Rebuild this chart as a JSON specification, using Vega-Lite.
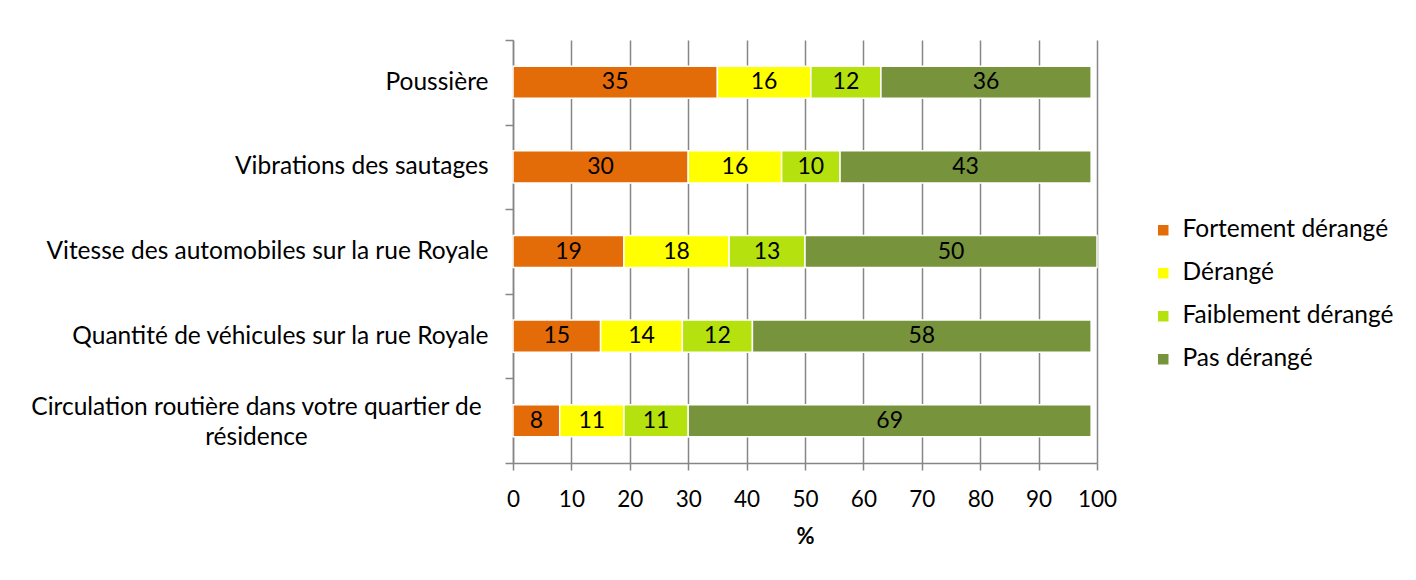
{
  "$schema": "https://vega.github.io/schema/vega-lite/v6.json",
  "width": 584,
  "height": 423,
  "autosize": {"type": "none"},
  "padding": {"left": 513, "top": 40, "right": 319, "bottom": 117},
  "background": "white",
  "config": {
    "font": "Lato",
    "view": {"stroke": null},
    "axis": {"labelFont": "Lato", "titleFont": "Lato", "labelColor": "black", "titleColor": "black"}
  },
  "data": {
    "values": [
      {"cat": "Poussière", "serie": "Fortement dérangé", "ord": 1, "v": 35},
      {"cat": "Poussière", "serie": "Dérangé", "ord": 2, "v": 16},
      {"cat": "Poussière", "serie": "Faiblement dérangé", "ord": 3, "v": 12},
      {"cat": "Poussière", "serie": "Pas dérangé", "ord": 4, "v": 36},
      {"cat": "Vibrations des sautages", "serie": "Fortement dérangé", "ord": 1, "v": 30},
      {"cat": "Vibrations des sautages", "serie": "Dérangé", "ord": 2, "v": 16},
      {"cat": "Vibrations des sautages", "serie": "Faiblement dérangé", "ord": 3, "v": 10},
      {"cat": "Vibrations des sautages", "serie": "Pas dérangé", "ord": 4, "v": 43},
      {"cat": "Vitesse des automobiles sur la rue Royale", "serie": "Fortement dérangé", "ord": 1, "v": 19},
      {"cat": "Vitesse des automobiles sur la rue Royale", "serie": "Dérangé", "ord": 2, "v": 18},
      {"cat": "Vitesse des automobiles sur la rue Royale", "serie": "Faiblement dérangé", "ord": 3, "v": 13},
      {"cat": "Vitesse des automobiles sur la rue Royale", "serie": "Pas dérangé", "ord": 4, "v": 50},
      {"cat": "Quantité de véhicules sur la rue Royale", "serie": "Fortement dérangé", "ord": 1, "v": 15},
      {"cat": "Quantité de véhicules sur la rue Royale", "serie": "Dérangé", "ord": 2, "v": 14},
      {"cat": "Quantité de véhicules sur la rue Royale", "serie": "Faiblement dérangé", "ord": 3, "v": 12},
      {"cat": "Quantité de véhicules sur la rue Royale", "serie": "Pas dérangé", "ord": 4, "v": 58},
      {"cat": "Circulation routière dans votre quartier de résidence", "serie": "Fortement dérangé", "ord": 1, "v": 8},
      {"cat": "Circulation routière dans votre quartier de résidence", "serie": "Dérangé", "ord": 2, "v": 11},
      {"cat": "Circulation routière dans votre quartier de résidence", "serie": "Faiblement dérangé", "ord": 3, "v": 11},
      {"cat": "Circulation routière dans votre quartier de résidence", "serie": "Pas dérangé", "ord": 4, "v": 69}
    ]
  },
  "encoding": {
    "y": {
      "field": "cat",
      "type": "nominal",
      "sort": null,
      "title": null,
      "scale": {"paddingInner": 0, "paddingOuter": 0},
      "axis": {
        "tickBand": "extent",
        "domainColor": "#868686",
        "domainWidth": 1.5,
        "tickColor": "#868686",
        "tickWidth": 1.5,
        "tickSize": 8,
        "labelFontSize": 24.5,
        "labelLimit": 600,
        "labelLineHeight": 30,
        "labelPadding": {"condition": {"test": "datum.value == 'Circulation routière dans votre quartier de résidence'", "value": 249}, "value": 17},
        "labelAlign": {"condition": {"test": "datum.value == 'Circulation routière dans votre quartier de résidence'", "value": "center"}, "value": "right"},
        "labelOffset": {"condition": {"test": "datum.value == 'Circulation routière dans votre quartier de résidence'", "value": -13}, "value": 0},
        "labelExpr": "datum.value == 'Circulation routière dans votre quartier de résidence' ? ['Circulation routière dans votre quartier de', 'résidence'] : datum.value"
      }
    },
    "x": {
      "field": "v",
      "type": "quantitative",
      "stack": "zero",
      "scale": {"domain": [0, 100], "nice": false},
      "title": "%",
      "axis": {
        "values": [0, 10, 20, 30, 40, 50, 60, 70, 80, 90, 100],
        "grid": true,
        "gridColor": "#868686",
        "gridWidth": 1.5,
        "domainColor": "#868686",
        "domainWidth": 1.5,
        "tickColor": "#868686",
        "tickWidth": 1.5,
        "tickSize": 7,
        "labelFontSize": 22.5,
        "labelPadding": 18,
        "labelFlush": false,
        "labelOverlap": false,
        "titleFontSize": 22,
        "titleFontWeight": "bold",
        "titlePadding": 16
      }
    },
    "order": {"field": "ord", "type": "quantitative"}
  },
  "layer": [
    {
      "mark": {"type": "bar", "stroke": "white", "strokeWidth": 1.5, "height": {"band": 0.38}},
      "encoding": {
        "color": {
          "field": "serie",
          "type": "nominal",
          "scale": {
            "domain": ["Fortement dérangé", "Dérangé", "Faiblement dérangé", "Pas dérangé"],
            "range": ["#E36C09", "#FFFF00", "#B5E10E", "#77933C"]
          },
          "legend": {
            "title": null,
            "orient": "none",
            "legendX": 638,
            "legendY": 178,
            "symbolType": "square",
            "symbolSize": 110,
            "symbolStrokeWidth": 0,
            "labelFontSize": 24.5,
            "labelFont": "Lato",
            "labelColor": "black",
            "labelOffset": 7,
            "rowPadding": 18,
            "labelLimit": 400
          }
        }
      }
    },
    {
      "mark": {"type": "text", "fontSize": 23, "color": "black", "font": "Lato", "baseline": "middle"},
      "encoding": {
        "x": {"field": "v", "type": "quantitative", "stack": "zero", "bandPosition": 0.5},
        "text": {"field": "v", "type": "quantitative"}
      }
    }
  ]
}
